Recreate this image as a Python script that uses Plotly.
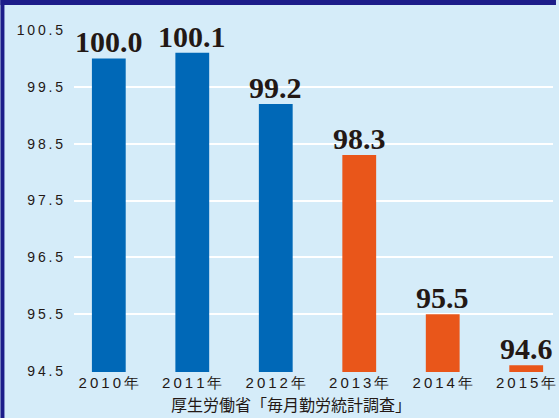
import plotly.graph_objects as go

categories = ["2010年", "2011年", "2012年", "2013年", "2014年", "2015年"]
values = [100.0, 100.1, 99.2, 98.3, 95.5, 94.6]
bar_colors = ["#0068B7", "#0068B7", "#0068B7", "#E9561A", "#E9561A", "#E9561A"]
y_ticks = [94.5, 95.5, 96.5, 97.5, 98.5, 99.5, 100.5]
source_text = "厚生労働省「毎月勤労統計調査」"

THIN = "\u2009"
def spaced(s):
    return THIN.join(list(s))

W, H = 559, 418
ML, MR, MT, MB = 74, 3, 29, 46
ph = H - MT - MB
pw = W - ML - MR
eps = 1 / 56.83

fig = go.Figure()
fig.add_trace(go.Bar(
    x=categories, y=values,
    marker=dict(color=bar_colors, line=dict(width=0)),
    width=0.405,
    hoverinfo="x+y",
))

for c, v in zip(categories, values):
    fig.add_annotation(
        x=c, y=v, xref="x", yref="y",
        text=f"{v:.1f}", showarrow=False,
        yanchor="bottom", yshift=-2,
        font=dict(family="Liberation Serif", size=30, color="#231815", weight="bold"),
    )

fig.add_annotation(
    x=(292 - ML) / pw, y=(H - MB - 418) / ph, xref="paper", yref="paper",
    text=source_text, showarrow=False, xanchor="center", yanchor="bottom",
    font=dict(family="Noto Sans CJK JP", size=16, color="#231815"),
)

# frame pieces
fig.add_shape(type="rect", xref="paper", yref="paper",
              x0=-ML / pw, x1=(W - ML) / pw, y0=(H - MB - 5) / ph, y1=(H - MB) / ph,
              fillcolor="#1D1D8A", line=dict(width=0), layer="above")
fig.add_shape(type="rect", xref="paper", yref="paper",
              x0=-ML / pw, x1=(4 - ML) / pw, y0=-MB / ph, y1=(H - MB) / ph,
              fillcolor="#1D1D8A", line=dict(width=0), layer="above")

fig.update_layout(
    width=W, height=H,
    margin=dict(l=ML, r=MR, t=MT, b=MB),
    paper_bgcolor="#D5ECF9", plot_bgcolor="#D5ECF9",
    showlegend=False,
    bargap=0.5,
    xaxis=dict(
        type="category", range=[-0.417, 5.321],
        tickvals=categories, ticktext=[spaced(c) for c in categories],
        showgrid=False, zeroline=False, showline=False, ticks="",
        ticklabelstandoff=0,
        tickfont=dict(family="Liberation Sans", size=15, color="#231815"),
    ),
    yaxis=dict(
        range=[94.5 - eps, 100.5 + eps],
        tickvals=y_ticks, ticktext=[spaced(f"{t:.1f}") for t in y_ticks],
        showgrid=True, gridcolor="#FFFFFF", gridwidth=2,
        zeroline=False, showline=False, ticks="",
        ticklabelstandoff=10,
        tickfont=dict(family="Liberation Sans", size=14, color="#231815"),
    ),
)

fig.write_html(
    "out.html",
    config={"displayModeBar": False},
    post_script="document.body.style.margin='0';document.body.style.overflow='hidden';",
)
